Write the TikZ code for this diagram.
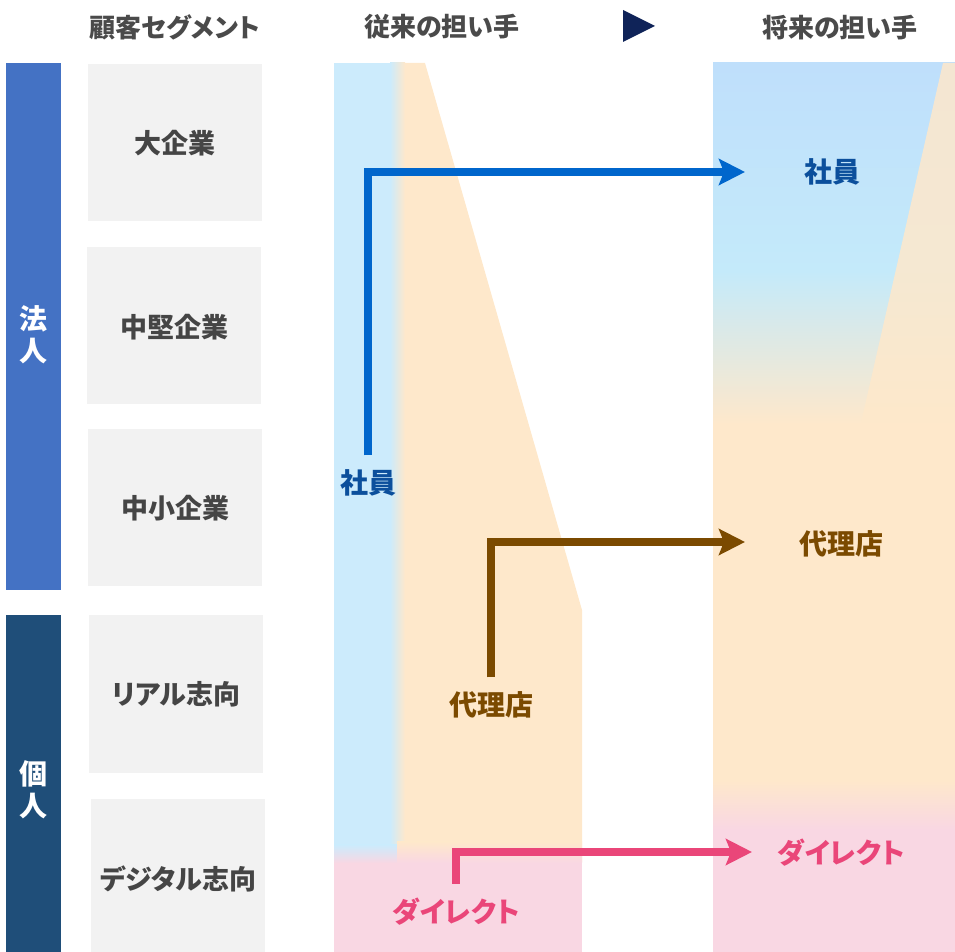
\documentclass[tikz,border=0pt]{standalone}
\usepackage{fontspec}
\setmainfont{Noto Sans CJK JP}[CharacterWidth=AlternateProportional]
\usetikzlibrary{arrows.meta}

\definecolor{corpbar}{HTML}{4472C4}
\definecolor{privbar}{HTML}{1F4E79}
\definecolor{boxgray}{HTML}{F2F2F2}
\definecolor{segtext}{HTML}{454545}
\definecolor{headtext}{HTML}{4A4A4A}
\definecolor{navy}{HTML}{0F2358}
\definecolor{oldblue}{HTML}{CCEBFC}
\definecolor{newblue}{HTML}{BFDFFB}
\definecolor{newblueb}{HTML}{C4EAFA}
\definecolor{orangebg}{HTML}{FEE8CB}
\definecolor{pinkbg}{HTML}{F9D7E3}
\definecolor{empline}{HTML}{0066CC}
\definecolor{emptext}{HTML}{0B4F9C}
\definecolor{agtbrown}{HTML}{7B4A00}
\definecolor{dirpink}{HTML}{EA4679}

\tikzset{
  head/.style={font=\bfseries\fontsize{13}{15}\selectfont, text=headtext},
  seg/.style={font=\bfseries\fontsize{13.5}{16}\selectfont, text=segtext},
  side/.style={font=\bfseries\fontsize{14}{16}\selectfont, text=white, align=center},
  who/.style={font=\bfseries\fontsize{14}{16}\selectfont, inner sep=0pt},
  flow/.style={line width=4.4pt, shorten <=7pt, -{Stealth[length=13pt, width=13pt, inset=2.5pt]}},
}

\begin{document}
\begin{tikzpicture}[x=0.5pt, y=-0.5pt]
  \useasboundingbox (0,0) rectangle (955,952);

  % headers
  \node[head] (hseg) at (175,27) {顧客セグメント};
  \node[head] (hold) at (442,27) {従来の担い手};
  \node[head] (hnew) at (840,28) {将来の担い手};
  \fill [color=navy] (623,10)--(655,26)--(623,42)--cycle;

  % left bars
  \fill [color=corpbar] (6,63) rectangle (61,590);
  \fill [color=privbar] (6,615) rectangle (61,952);
  \node[side] (corp) at (33,335) {法\\人};
  \node[side] (priv) at (33,790) {個\\人};

  % segment boxes
  \fill [color=boxgray] (88,64) rectangle (262,221);
  \fill [color=boxgray] (87,247) rectangle (261,404);
  \fill [color=boxgray] (88,429) rectangle (262,586);
  \fill [color=boxgray] (89,615) rectangle (263,773);
  \fill [color=boxgray] (91,799) rectangle (265,952);
  \node[seg] (large) at (175,143) {大企業};
  \node[seg] (mid) at (174,327) {中堅企業};
  \node[seg] (small) at (175,508) {中小企業};
  \node[seg] (real) at (176,694) {リアル志向};
  \node[seg] (digi) at (178,879) {デジタル志向};

  % current channels
  \fill [color=orangebg] (390,63)--(425,63)--(582,610)--(582,862)--(390,862)--cycle;
  \fill [color=oldblue] (334,63) rectangle (391,850);
  \shade [left color=oldblue, right color=orangebg] (390,63) rectangle (405,850);
  \fill [color=pinkbg] (334,862) rectangle (582,952);
  \shade [top color=oldblue, bottom color=pinkbg] (334,845) rectangle (398,863);
  \shade [top color=orangebg, bottom color=pinkbg] (397,842) rectangle (582,863);

  % future channels
  \shade [top color=newblue, bottom color=newblueb] (713,63) rectangle (955,272);
  \shade [top color=newblueb, bottom color=orangebg] (713,271) rectangle (955,424);
  \fill [color=orangebg] (713,423) rectangle (955,782);
  \shade [top color=orangebg, bottom color=pinkbg] (713,780) rectangle (955,830);
  \fill [color=pinkbg] (713,829) rectangle (955,952);
  \fill [color=orangebg, opacity=0.85] (943,63)--(955,63)--(955,423)--(861,423)--cycle;

  % labels
  \node[who, text=emptext] (emp1) at (368,483) {社員};
  \node[who, text=emptext] (emp2) at (832,172) {社員};
  \node[who, text=agtbrown] (agt1) at (491,705) {代理店};
  \node[who, text=agtbrown] (agt2) at (841,544) {代理店};
  \node[who, text=dirpink] (dir1) at (456,912) {ダイレクト};
  \node[who, text=dirpink] (dir2) at (841,853) {ダイレクト};

  % shifts
  \coordinate (emptip) at (745,172);
  \coordinate (agttip) at (745,542);
  \coordinate (dirtip) at (752,852);
  \draw [flow, color=empline] (emp1.north) |- (emptip);
  \draw [flow, color=agtbrown] (agt1.north) |- (agttip);
  \draw [flow, color=dirpink] (dir1.north) |- (dirtip);
\end{tikzpicture}
\end{document}
